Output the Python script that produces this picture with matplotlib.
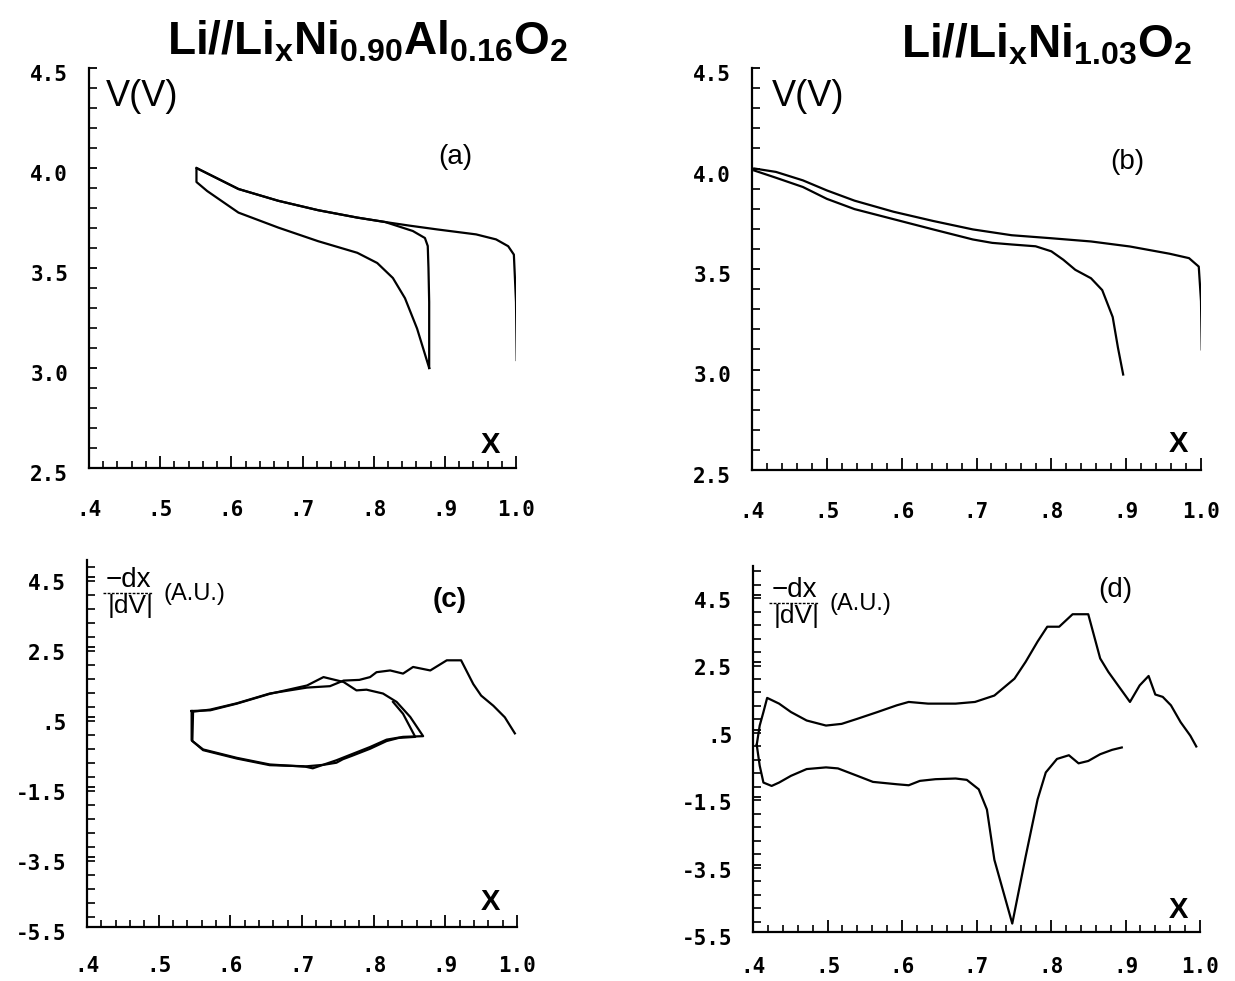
import numpy as np
import matplotlib
matplotlib.use('Agg')
import matplotlib.pyplot as plt
import matplotlib.transforms as mtransforms
from matplotlib.ticker import MultipleLocator

# Panel (a): Li//LixNi0.90Al0.16O2, V vs x
a_loop_x = [0.878, 0.878, 0.877, 0.876, 0.872, 0.855, 0.816, 0.777, 0.722, 0.666, 0.610,
            0.551, 0.551, 0.566, 0.610, 0.666, 0.722, 0.777, 0.805, 0.827, 0.844, 0.861, 0.878]
a_loop_v = [3.00, 3.33, 3.50, 3.61, 3.65, 3.685, 3.73, 3.752, 3.789, 3.836, 3.895,
            4.00, 3.93, 3.885, 3.777, 3.702, 3.634, 3.576, 3.525, 3.45, 3.349, 3.197, 3.00]
a_dis_x = [0.551, 0.610, 0.666, 0.722, 0.777, 0.816, 0.85, 0.889, 0.944, 0.972, 0.989, 0.997, 1.0, 1.001]
a_dis_v = [4.00, 3.895, 3.836, 3.789, 3.752, 3.73, 3.712, 3.693, 3.668, 3.643, 3.609, 3.567, 3.33, 3.04]

# Panel (b): Li//LixNi1.03O2
b_up_x = [0.403, 0.432, 0.468, 0.500, 0.537, 0.589, 0.642, 0.695, 0.747, 0.800, 0.853,
          0.905, 0.958, 0.984, 0.997, 1.000, 1.001]
b_up_v = [4.00, 3.983, 3.941, 3.891, 3.840, 3.785, 3.739, 3.697, 3.668, 3.653, 3.637,
          3.612, 3.576, 3.554, 3.512, 3.34, 3.10]
b_lo_x = [0.403, 0.432, 0.468, 0.500, 0.537, 0.589, 0.642, 0.695, 0.721, 0.747, 0.779,
          0.800, 0.816, 0.832, 0.853, 0.868, 0.882, 0.889, 0.896]
b_lo_v = [3.99, 3.954, 3.908, 3.849, 3.798, 3.748, 3.697, 3.647, 3.630, 3.622, 3.613,
          3.588, 3.546, 3.496, 3.454, 3.395, 3.261, 3.109, 2.975]

# Panel (c): -dx/|dV| for Al-doped material
c_loop_x = [0.546, 0.546, 0.562, 0.609, 0.655, 0.702, 0.715, 0.748, 0.795, 0.818, 0.841, 0.869,
            0.851, 0.832, 0.813, 0.790, 0.776, 0.758, 0.730, 0.707, 0.655, 0.609, 0.572, 0.546]
c_loop_y = [0.68, -0.16, -0.44, -0.68, -0.87, -0.90, -0.96, -0.73, -0.35, -0.14, -0.06, -0.04,
            0.51, 0.94, 1.18, 1.29, 1.27, 1.51, 1.65, 1.41, 1.17, 0.89, 0.70, 0.68]
c_cyc2_x = [0.827, 0.841, 0.858, 0.835, 0.818, 0.795, 0.770, 0.757, 0.748, 0.730, 0.702,
            0.655, 0.609, 0.562, 0.547, 0.548, 0.572, 0.609, 0.655, 0.707, 0.739, 0.758,
            0.780, 0.795, 0.804, 0.823, 0.841, 0.855, 0.879, 0.902, 0.922, 0.939, 0.950,
            0.967, 0.983, 0.997]
c_cyc2_y = [0.94, 0.60, -0.06, -0.09, -0.18, -0.40, -0.60, -0.70, -0.80, -0.86, -0.91,
            -0.85, -0.66, -0.42, -0.18, 0.66, 0.72, 0.90, 1.18, 1.35, 1.39, 1.55,
            1.57, 1.65, 1.79, 1.84, 1.75, 1.94, 1.84, 2.13, 2.13, 1.45, 1.12,
            0.83, 0.50, 0.04]

# Panel (d): -dx/|dV| for LixNi1.03O2
d_up_x = [0.405, 0.409, 0.414, 0.419, 0.435, 0.451, 0.472, 0.498, 0.519, 0.540, 0.567,
          0.593, 0.609, 0.635, 0.672, 0.698, 0.724, 0.751, 0.766, 0.782, 0.795, 0.811,
          0.829, 0.850, 0.866, 0.877, 0.890, 0.906, 0.919, 0.931, 0.940, 0.950, 0.961,
          0.974, 0.987, 0.995]
d_up_y = [0.05, 0.62, 1.02, 1.44, 1.27, 1.02, 0.77, 0.62, 0.67, 0.82, 1.02,
          1.22, 1.32, 1.27, 1.27, 1.32, 1.51, 2.01, 2.51, 3.11, 3.55, 3.55,
          3.92, 3.92, 2.61, 2.21, 1.81, 1.32, 1.81, 2.09, 1.54, 1.47, 1.22,
          0.72, 0.32, 0.0]
d_lo_x = [0.405, 0.409, 0.414, 0.425, 0.435, 0.451, 0.472, 0.498, 0.514, 0.540, 0.561,
          0.593, 0.609, 0.624, 0.645, 0.672, 0.687, 0.703, 0.714, 0.724, 0.748, 0.766,
          0.782, 0.793, 0.808, 0.824, 0.837, 0.850, 0.866, 0.882, 0.895]
d_lo_y = [0.05, -0.57, -1.07, -1.17, -1.07, -0.87, -0.67, -0.62, -0.65, -0.87, -1.05,
          -1.12, -1.15, -1.02, -0.97, -0.95, -0.99, -1.27, -1.87, -3.36, -5.25, -3.26,
          -1.57, -0.77, -0.37, -0.26, -0.50, -0.43, -0.23, -0.10, -0.03]

x_ticks = [0.4, 0.5, 0.6, 0.7, 0.8, 0.9, 1.0]
x_labels = ['.4', '.5', '.6', '.7', '.8', '.9', '1.0']
v_ticks = [2.5, 3.0, 3.5, 4.0, 4.5]
v_labels = ['2.5', '3.0', '3.5', '4.0', '4.5']
d_ticks = [-5.5, -3.5, -1.5, 0.5, 2.5, 4.5]
d_labels = ['-5.5', '-3.5', '-1.5', '.5', '2.5', '4.5']

W, H = 1235, 981
fig = plt.figure(figsize=(W / 100, H / 100), dpi=100)
fig.patch.set_facecolor('white')

tick_font = {'family': 'DejaVu Sans Mono', 'weight': 'bold', 'size': 15}
txt_font = 'Liberation Sans'
LW = 1.6
label_shift = mtransforms.ScaledTranslation(0, -5 / 100, fig.dpi_scale_trans)


def box(left, top, right, bottom):
    # pixel box of the reference -> figure fraction rect
    return [left / W, 1 - bottom / H, (right - left) / W, (bottom - top) / H]


def style(ax, ylim, yminor, yticks, ylabels, xpad=23):
    ax.set_xlim(0.4, 1.0)
    ax.set_ylim(*ylim)
    for s in ['top', 'right']:
        ax.spines[s].set_visible(False)
    for s in ['left', 'bottom']:
        ax.spines[s].set_linewidth(1.6)
    ax.set_xticks(x_ticks)
    ax.set_xticklabels(x_labels, fontdict=tick_font)
    ax.set_yticks(yticks)
    ax.set_yticklabels(ylabels, fontdict=tick_font)
    ax.xaxis.set_minor_locator(MultipleLocator(0.02))
    ax.yaxis.set_minor_locator(MultipleLocator(yminor))
    ax.tick_params(axis='x', which='major', direction='in', length=9, width=1.3, pad=xpad)
    ax.tick_params(axis='x', which='minor', direction='in', length=5, width=1.2)
    ax.tick_params(axis='y', which='major', direction='in', length=6, width=1.3, pad=15)
    ax.tick_params(axis='y', which='minor', direction='in', length=6, width=1.2)
    for lbl in ax.get_yticklabels():
        lbl.set_transform(lbl.get_transform() + label_shift)


def fig_text(x, y, s, **kw):
    fig.text(x / W, 1 - y / H, s, ha='center', va='center', family=txt_font, **kw)


# (a)
ax = fig.add_axes(box(89, 68, 516, 468))
ax.plot(a_loop_x, a_loop_v, color='black', lw=LW)
ax.plot(a_dis_x, a_dis_v, color='black', lw=LW)
style(ax, (2.5, 4.5), 0.1, v_ticks, v_labels)

# (b)
ax = fig.add_axes(box(752, 68, 1201, 470))
ax.plot(b_up_x, b_up_v, color='black', lw=LW)
ax.plot(b_lo_x, b_lo_v, color='black', lw=LW)
style(ax, (2.5, 4.5), 0.1, v_ticks, v_labels)

# (c)
ax = fig.add_axes(box(87, 560, 517, 927))
ax.plot(c_loop_x, c_loop_y, color='black', lw=LW)
ax.plot(c_cyc2_x, c_cyc2_y, color='black', lw=LW)
style(ax, (-5.5, 5.0), 0.4, d_ticks, d_labels, xpad=21)

# (d)
ax = fig.add_axes(box(753, 566, 1200, 932))
ax.plot(d_up_x, d_up_y, color='black', lw=LW)
ax.plot(d_lo_x, d_lo_y, color='black', lw=LW)
style(ax, (-5.5, 5.35), 0.4, d_ticks, d_labels, xpad=18)

# titles and labels
fig_text(368, 42, r'Li//Li$_\mathregular{x}$Ni$_\mathregular{0.90}$Al$_\mathregular{0.16}$O$_\mathregular{2}$',
         fontsize=33, weight='bold')
fig_text(1047, 45, r'Li//Li$_\mathregular{x}$Ni$_\mathregular{1.03}$O$_\mathregular{2}$',
         fontsize=33, weight='bold')
fig_text(142, 97, 'V(V)', fontsize=26)
fig_text(808, 97, 'V(V)', fontsize=26)
fig_text(455, 157, '(a)', fontsize=20)
fig_text(1127, 162, '(b)', fontsize=20)
fig_text(450, 600, '(c)', fontsize=20, weight='bold')
fig_text(1115, 590, '(d)', fontsize=20)
for px, py in [(490, 445), (1178, 444), (490, 902), (1178, 910)]:
    fig_text(px, py, 'X', fontsize=21, weight='bold')

# -dx/|dV| (A.U.) labels
for (cx, cy) in [(128, 593), (794, 603)]:
    fig_text(cx, cy - 13, '\u2212dx', fontsize=20)
    fig_text(cx + 3, cy + 13, '|dV|', fontsize=19)
    fig.add_artist(plt.Line2D([(cx - 25) / W, (cx + 25) / W], [1 - cy / H, 1 - cy / H],
                              color='black', lw=1.0, ls=(0, (2, 1))))
    fig_text(cx + 66, cy + 1, '(A.U.)', fontsize=17)

fig.savefig('out.png', dpi=100, facecolor='white')
